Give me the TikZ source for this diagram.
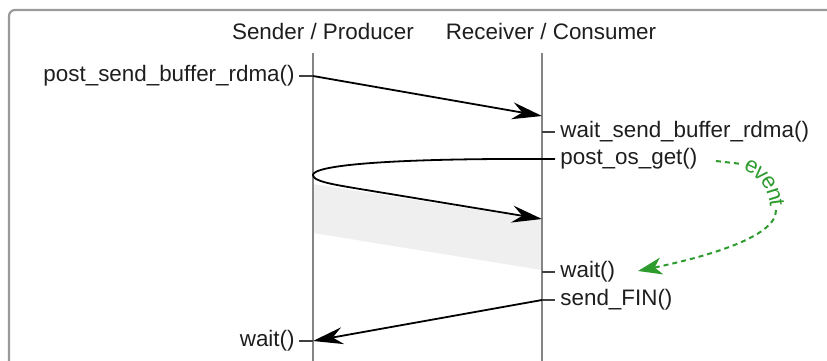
\documentclass[tikz,border=0pt]{standalone}
\usepackage{fontspec}
\setmainfont{Liberation Sans}
\usetikzlibrary{arrows.meta,decorations.text}
\definecolor{evgreen}{HTML}{2E9B2E}
\definecolor{framegray}{HTML}{9A9A9A}
\definecolor{linegray}{HTML}{858585}
\definecolor{shadegray}{HTML}{EFEFEF}
\definecolor{ink}{HTML}{1E1E1E}
\begin{document}
\begin{tikzpicture}[x=0.5pt,y=-0.5pt,
  lbl/.style={font=\fontsize{11.2}{13}\selectfont, text=ink, inner sep=0pt},
  lifeline/.style={draw=linegray, line width=1.3pt},
  tickmark/.style={draw=ink!85, line width=0.75pt},
  msg/.style={draw=black, line width=0.9pt, -{Stealth[length=15pt,width=8.5pt,inset=5pt]}},
  evt/.style={draw=evgreen, line width=1pt, dash pattern=on 2.5pt off 2pt}]
\useasboundingbox (0,0) rectangle (827,360);
\clip (0,0) rectangle (827,360);

% outer frame (runs off the right and bottom edges)
\draw[framegray, line width=1.1pt, rounded corners=3pt] (9,10) rectangle (870,400);

% lifeline end points
\coordinate (sTop) at (313,53);
\coordinate (sBot) at (313,362);
\coordinate (rTop) at (542,53);
\coordinate (rBot) at (542,362);

% points on the lifelines
\coordinate (s1) at (313,76);
\coordinate (r1) at (542,116);
\coordinate (r2) at (542,132);
\coordinate (r3) at (542,159);
\coordinate (sTurn) at (313,175);
\coordinate (r4) at (542,219);
\coordinate (r5) at (542,272);
\coordinate (r6) at (542,300);
\coordinate (s2) at (313,341);

% shaded interval while the get is in flight
\fill[shadegray] (313,184) -- (542,220) -- (542,270) -- (313,233) -- cycle;

% lifelines
\draw[lifeline] (sTop) -- (sBot);
\draw[lifeline] (rTop) -- (rBot);

% column titles
\node[lbl, anchor=base] (tSend) at (323,39) {Sender / Producer};
\node[lbl, anchor=base] (tRecv) at (551,39) {Receiver / Consumer};

% call labels
\node[lbl, anchor=mid east] (lPost) at (295,76) {post\_send\_buffer\_rdma()};
\node[lbl, anchor=mid west] (lWaitSend) at (560,132) {wait\_send\_buffer\_rdma()};
\node[lbl, anchor=mid west] (lGet) at (560,159) {post\_os\_get()};
\node[lbl, anchor=mid west] (lWaitR) at (560,272) {wait()};
\node[lbl, anchor=mid west] (lFin) at (560,300) {send\_FIN()};
\node[lbl, anchor=mid east] (lWaitS) at (295,341) {wait()};

% ticks from labels to lifelines
\draw[tickmark] (lPost.mid east) ++(4,0) -- (s1);
\draw[tickmark] (lWaitSend.mid west) ++(-5,0) -- (r2);
\draw[tickmark] (lGet.mid west) ++(-5,0) -- (r3);
\draw[tickmark] (lWaitR.mid west) ++(-5,0) -- (r5);
\draw[tickmark] (lFin.mid west) ++(-5,0) -- (r6);
\draw[tickmark] (lWaitS.mid east) ++(4,0) -- (s2);

% messages
\draw[msg] (s1) -- (r1);
\draw[msg] (lGet.mid west) ++(-5,0) .. controls (380,158) and (313,166) .. (sTurn)
  .. controls (313,181) and (330,184) .. (360,189) -- (r4);
\draw[msg] (r6) -- (s2);

% local event from post_os_get() to wait()
\coordinate (e0) at (716,161);
\coordinate (e1) at (742,164);
\coordinate (e2) at (776,210);
\coordinate (e3) at (638,271);
\draw[evt] (e0) -- (e1);
\path[decorate, decoration={text along path, text align=center, raise=-2.9pt,
  text={|\fontsize{11.2}{13}\selectfont\color{evgreen}|event}}]
  (e1) .. controls (760,167) and (776,186) .. (e2);
\draw[evt, -{Stealth[length=12pt,width=8.5pt,inset=3.5pt]}]
  (e2) .. controls (777,238) and (700,258) .. (e3);
\end{tikzpicture}
\end{document}
